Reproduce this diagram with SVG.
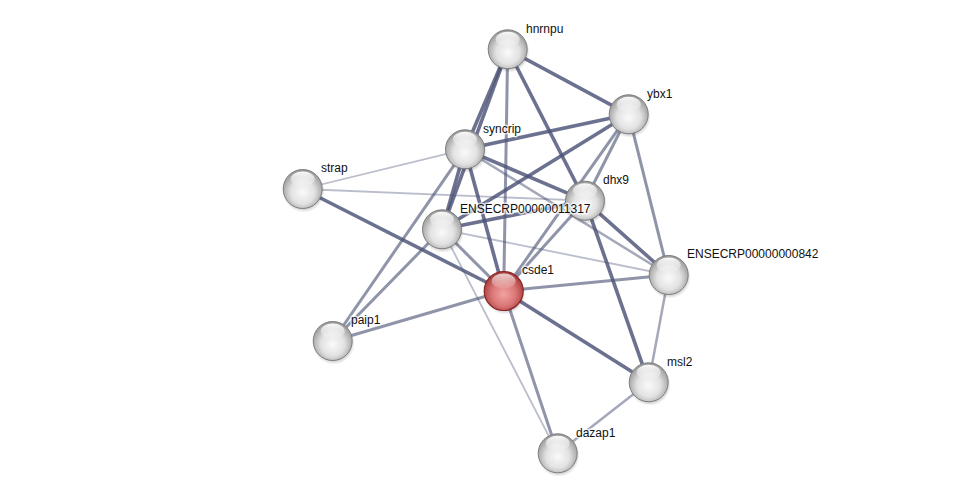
<svg xmlns="http://www.w3.org/2000/svg" width="976" height="499" viewBox="0 0 976 499">
<defs>
<radialGradient id="gw" cx="50%" cy="58%" r="55%">
<stop offset="0" stop-color="#fafafa"/>
<stop offset="0.55" stop-color="#e2e2e2"/>
<stop offset="1" stop-color="#9c9c9c"/>
</radialGradient>
<radialGradient id="gr" cx="50%" cy="58%" r="55%">
<stop offset="0" stop-color="#f2a2a2"/>
<stop offset="0.55" stop-color="#db7777"/>
<stop offset="1" stop-color="#a83c3c"/>
</radialGradient>
<linearGradient id="hl" x1="0" y1="0" x2="0" y2="1">
<stop offset="0" stop-color="#ffffff" stop-opacity="0.95"/>
<stop offset="1" stop-color="#ffffff" stop-opacity="0.1"/>
</linearGradient>
<radialGradient id="sh" cx="50%" cy="50%" r="50%">
<stop offset="0.75" stop-color="#000" stop-opacity="0.25"/>
<stop offset="1" stop-color="#000" stop-opacity="0"/>
</radialGradient>
<g id="ball">
<circle cx="1" cy="2.5" r="21" fill="url(#sh)"/>
<circle r="19.5" fill="url(#gw)" stroke="#7e7e7e" stroke-width="1"/>
<ellipse cx="0" cy="-10" rx="12" ry="7.5" fill="url(#hl)"/>
</g>
<g id="redball">
<circle cx="1" cy="2.5" r="21" fill="url(#sh)"/>
<circle r="19.5" fill="url(#gr)" stroke="#8a2626" stroke-width="1.2"/>
<ellipse cx="0" cy="-10" rx="12" ry="7.5" fill="url(#hl)" opacity="0.8"/>
</g>
</defs>
<style>
.e{stroke:#4a5275;fill:none;stroke-linecap:butt}
.t{stroke-width:3.6;stroke-opacity:0.82}
.m{stroke-width:3;stroke-opacity:0.62}
.l{stroke-width:2.5;stroke-opacity:0.5}
.x{stroke-width:1.8;stroke-opacity:0.38}
text{font-family:"Liberation Sans",Arial,sans-serif;font-size:12px;fill:#111;stroke:#fff;stroke-width:3;stroke-opacity:0.7;paint-order:stroke;stroke-linejoin:round}
</style>
<rect width="976" height="499" fill="#fff"/>
<g id="connectors">
<line class="e t" x1="507.7" y1="49.3" x2="465" y2="149.3"/>
<line class="e t" x1="507.7" y1="49.3" x2="442" y2="229.3"/>
<line class="e t" x1="507.7" y1="49.3" x2="628.7" y2="114.3"/>
<line class="e m" x1="507.7" y1="49.3" x2="503.7" y2="291"/>
<line class="e t" x1="507.7" y1="49.3" x2="585" y2="200.7"/>
<line class="e t" x1="628.7" y1="114.3" x2="465" y2="149.3"/>
<line class="e t" x1="628.7" y1="114.3" x2="442" y2="229.3"/>
<line class="e m" x1="628.7" y1="114.3" x2="585" y2="200.7"/>
<line class="e m" x1="628.7" y1="114.3" x2="503.7" y2="291"/>
<line class="e m" x1="628.7" y1="114.3" x2="668.7" y2="275"/>
<line class="e x" x1="465" y1="149.3" x2="302.7" y2="189"/>
<line class="e t" x1="465" y1="149.3" x2="442" y2="229.3"/>
<line class="e m" x1="465" y1="149.3" x2="332.7" y2="341"/>
<line class="e t" x1="465" y1="149.3" x2="503.7" y2="291"/>
<line class="e t" x1="465" y1="149.3" x2="585" y2="200.7"/>
<line class="e l" x1="465" y1="149.3" x2="668.7" y2="275"/>
<line class="e x" x1="302.7" y1="189" x2="585" y2="200.7"/>
<line class="e t" x1="302.7" y1="189" x2="503.7" y2="291"/>
<line class="e t" x1="585" y1="200.7" x2="442" y2="229.3"/>
<line class="e m" x1="585" y1="200.7" x2="503.7" y2="291"/>
<line class="e t" x1="585" y1="200.7" x2="668.7" y2="275"/>
<line class="e t" x1="585" y1="200.7" x2="648.7" y2="382.3"/>
<line class="e m" x1="442" y1="229.3" x2="332.7" y2="341"/>
<line class="e m" x1="442" y1="229.3" x2="503.7" y2="291"/>
<line class="e x" x1="442" y1="229.3" x2="668.7" y2="275"/>
<line class="e x" x1="442" y1="229.3" x2="557.7" y2="453.3"/>
<line class="e m" x1="503.7" y1="291" x2="332.7" y2="341"/>
<line class="e m" x1="503.7" y1="291" x2="668.7" y2="275"/>
<line class="e t" x1="503.7" y1="291" x2="648.7" y2="382.3"/>
<line class="e m" x1="503.7" y1="291" x2="557.7" y2="453.3"/>
<line class="e l" x1="668.7" y1="275" x2="648.7" y2="382.3"/>
<line class="e l" x1="648.7" y1="382.3" x2="557.7" y2="453.3"/>
</g>
<g id="hnrnpu"><use href="#ball" x="507.7" y="49.3"/><text x="526" y="32.5">hnrnpu</text></g>
<g id="ybx1"><use href="#ball" x="628.7" y="114.3"/><text x="647" y="97.5">ybx1</text></g>
<g id="syncrip"><use href="#ball" x="465" y="149.3"/><text x="483" y="132.5">syncrip</text></g>
<g id="strap"><use href="#ball" x="302.7" y="189"/><text x="321" y="172">strap</text></g>
<g id="dhx9"><use href="#ball" x="585" y="200.7"/><text x="603" y="184">dhx9</text></g>
<g id="ENSECRP00000011317"><use href="#ball" x="442" y="229.3"/><text x="460" y="212.5">ENSECRP00000011317</text></g>
<g id="csde1"><use href="#redball" x="503.7" y="291"/><text x="522" y="274">csde1</text></g>
<g id="ENSECRP00000000842"><use href="#ball" x="668.7" y="275"/><text x="687" y="258">ENSECRP00000000842</text></g>
<g id="paip1"><use href="#ball" x="332.7" y="341"/><text x="351" y="324">paip1</text></g>
<g id="msl2"><use href="#ball" x="648.7" y="382.3"/><text x="667" y="365.5">msl2</text></g>
<g id="dazap1"><use href="#ball" x="557.7" y="453.3"/><text x="576" y="436.5">dazap1</text></g>
</svg>
